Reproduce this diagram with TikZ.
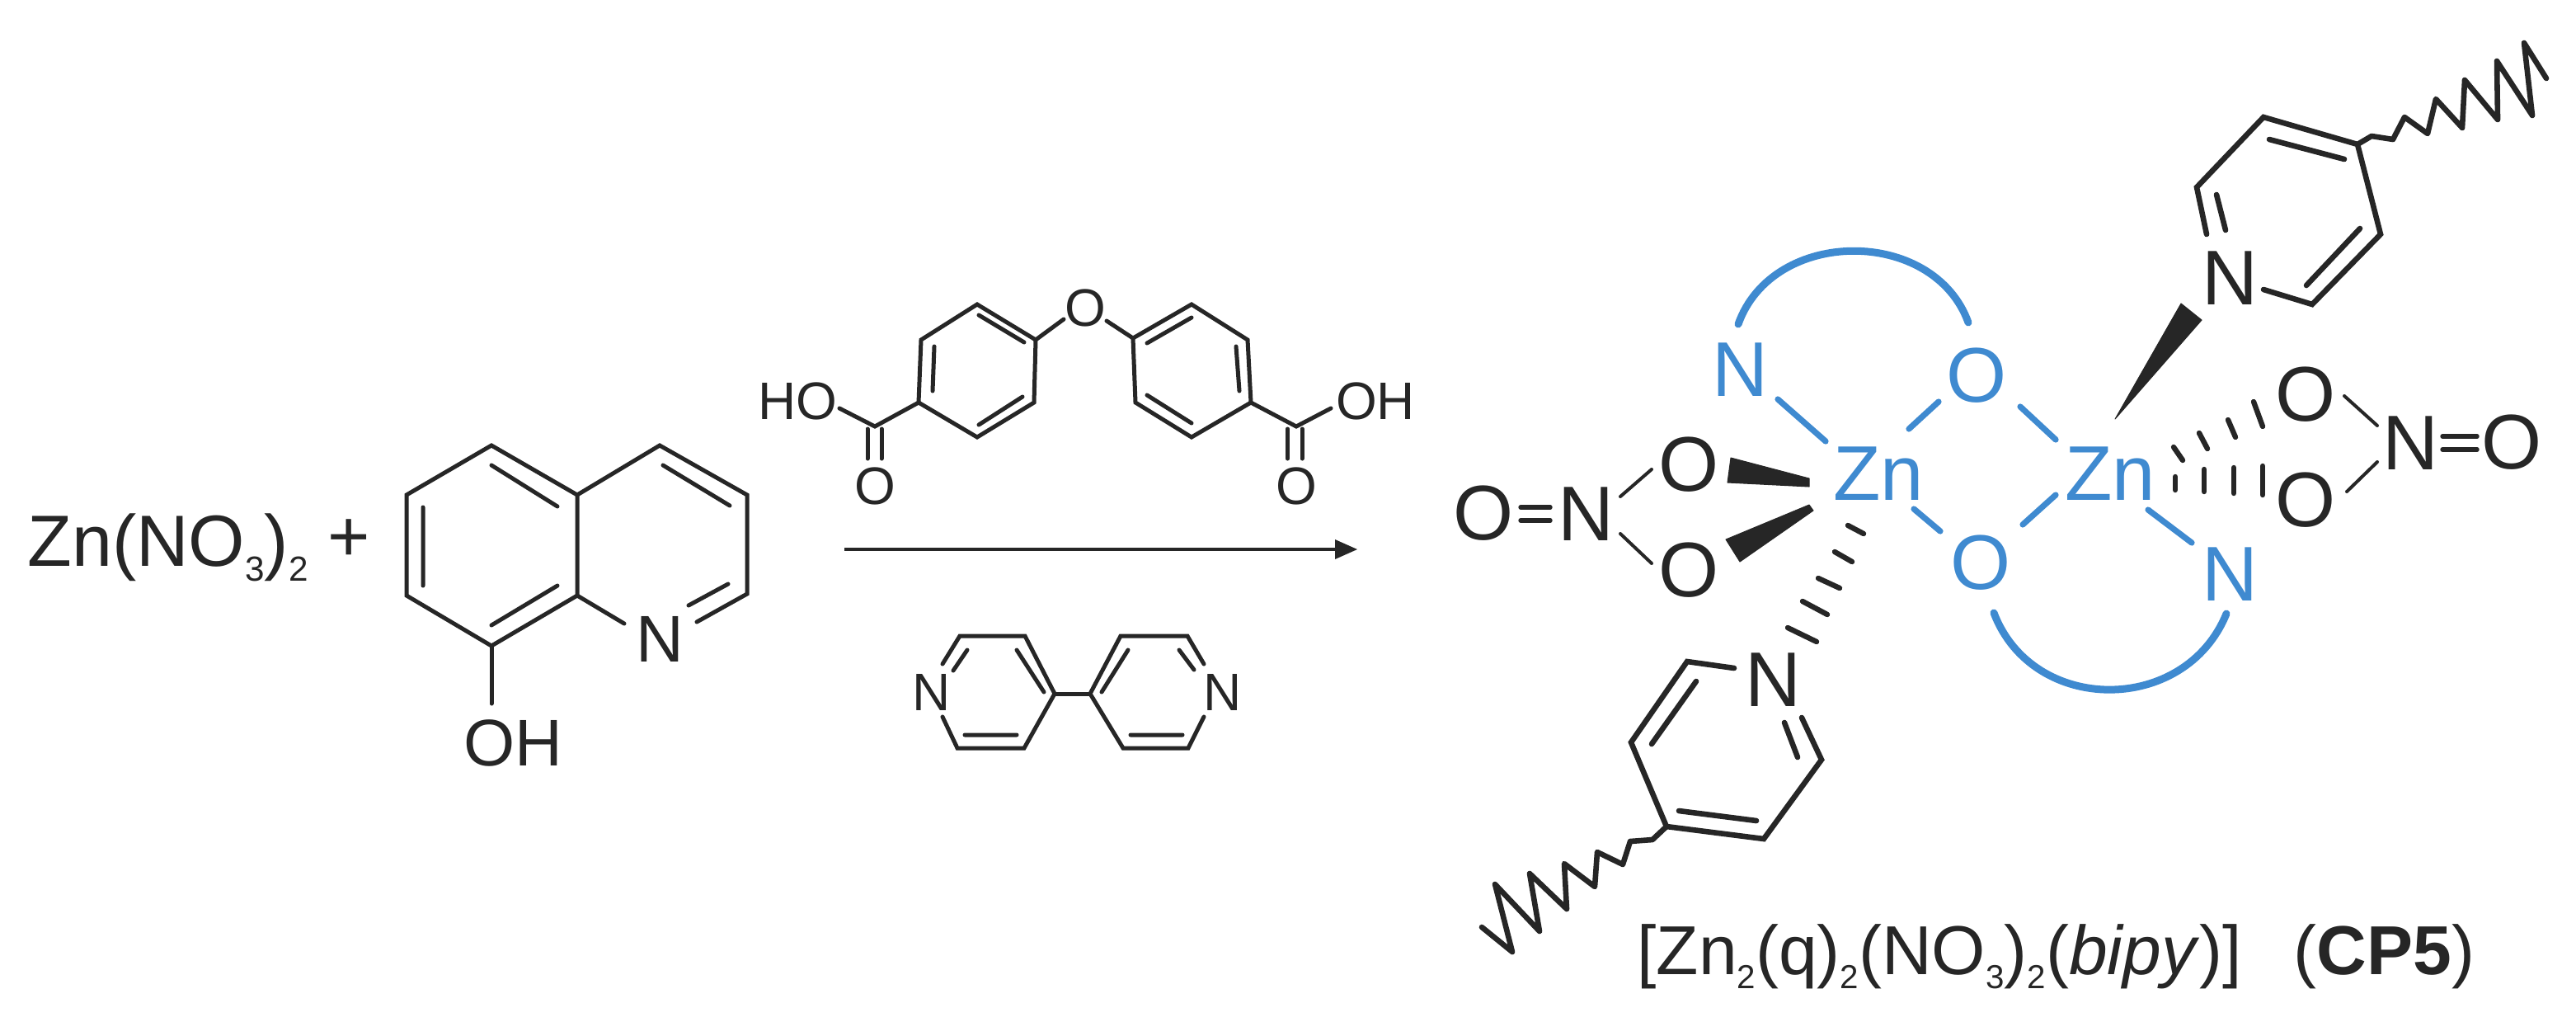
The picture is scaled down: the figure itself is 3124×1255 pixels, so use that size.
\documentclass[tikz,border=0pt]{standalone}
\usepackage{fontspec}
\setmainfont{Liberation Sans}
\definecolor{ink}{HTML}{262626}
\definecolor{znblue}{HTML}{3F8AD0}
\newcommand{\lowsub}[1]{\raisebox{-0.21em}{\scalebox{0.48}{#1}}}
\newcommand{\fs}[1]{\fontsize{#1}{#1}\selectfont}
\tikzset{
  bond/.style={draw=ink,line width=2.5pt,line join=miter,line cap=round},
  bondb/.style={draw=ink,line width=3.3pt,line join=miter,line cap=round},
  thin bond/.style={draw=ink,line width=2pt,line cap=round},
  double eq/.style={draw=ink,line width=2.7pt,line cap=round},
  blue bond/.style={draw=znblue,line width=3.6pt,line cap=round},
  arc line/.style={draw=znblue,line width=4.5pt,line cap=round},
  solid wedge/.style={fill=ink,draw=ink,line width=0.5pt,line join=round},
  hash/.style={draw=ink,line width=3.2pt,line cap=round},
  lbl/.style={text=ink,inner sep=0pt,font=\fs{40}},
  small lbl/.style={text=ink,inner sep=0pt,font=\fs{32}},
  big lbl/.style={text=ink,inner sep=0pt,font=\fs{47}},
  blue lbl/.style={text=znblue,inner sep=0pt,font=\fs{47}},
  rxn arrow/.style={draw=ink,line width=2pt},
  rxn head/.style={fill=ink},
}
\begin{document}
\begin{tikzpicture}[x=0.5pt,y=-0.5pt]
\useasboundingbox[fill=white] (0,0) rectangle (3124,1255);

% left reagents
\node[lbl,font=\fs{44},anchor=base west] (zn) at (33,686) {Zn(NO\lowsub{3})\lowsub{2}};
\node[lbl,font=\fs{44}] (plus) at (423,655) {+};

% quinoline
\draw[bond] (596,540)--(493,600)--(493,722)--(596,783)--(700,722)--(700,600)--cycle;
\draw[bond] (700,600)--(800,540)--(906,600)--(906,720)--(845,754);
\draw[bond] (700,722)--(757,756);
\draw[bond] (883,708)--(835,734);
\draw[bond] (596,564)--(676,614) (513,615)--(513,710) (596,758)--(676,710) (804,564)--(885,613);
\draw[bond] (596,783)--(596,853);
\node[lbl] (qn) at (800,775) {N};
\node[lbl] (qoh) at (622,901) {OH};

% diacid
\draw[bond] (1185,369)--(1256,412)--(1254,488)--(1185,530)--(1114,488)--(1117,412)--cycle;
\draw[bond] (1187,382)--(1242,415) (1133,420)--(1131,474) (1187,515)--(1240,481);
\draw[bond] (1445,369)--(1513,412)--(1517,488)--(1445,530)--(1377,488)--(1374,410)--cycle;
\draw[bond] (1391,416)--(1445,385) (1499,420)--(1503,474) (1391,479)--(1445,513);
\node[small lbl] (oc) at (1316,373) {O};
\draw[bond] (1256,412)--(1290,387) (1342,389)--(1374,410);
\draw[bond] (1114,488)--(1061,517)--(1018,495);
\draw[bond] (1052,520)--(1052,556) (1069,520)--(1069,556);
\node[small lbl] (ol) at (1061,589) {O};
\node[small lbl] (hol) at (967,486) {HO};
\draw[bond] (1517,488)--(1572,517)--(1614,495);
\draw[bond] (1561.5,520)--(1561.5,556) (1579,520)--(1579,556);
\node[small lbl] (or) at (1572,589) {O};
\node[small lbl] (ohr) at (1668,486) {OH};

% arrow
\coordinate (ar1) at (1024,666);
\coordinate (ar2) at (1622,666);
\draw[rxn arrow] (ar1)--(ar2);
\fill[rxn head] (1646,666)--(1619,654)--(1619,678)--cycle;

% bipy
\node[small lbl] (bl) at (1130,839) {N};
\node[small lbl] (br) at (1483,839) {N};
\draw[bond] (1143,805)--(1164,771)--(1243,771)--(1279,841)--(1242,907)--(1161,907)--(1143,869);
\draw[bond] (1173,788)--(1156,813) (1233,788)--(1266,839) (1170,891)--(1233,891);
\draw[bond] (1279,841)--(1322,841);
\draw[bond] (1460,805)--(1440,771)--(1359,771)--(1322,841)--(1362,907)--(1441,907)--(1460,869);
\draw[bond] (1368,788)--(1336,839) (1430,788)--(1448,812) (1371,891)--(1434,891);

% upper pyridine
\draw[bondb] (2676,284)--(2664,227)--(2745,142)--(2859,175)--(2887,284)--(2804,369)--(2745,351);
\draw[bondb] (2688,236)--(2699,279) (2797,346)--(2862,277) (2752,169)--(2843,193);
\node[big lbl] (pt) at (2704,337) {N};
\draw[bondb,line join=round] (2859,175)--(2876,165)--(2902,169)--(2916,142)--(2944,162)--(2954,120)--(2986,155)--(2989,97)--(3029,145)--(3028,74)--(3071,140)--(3061,52)--(3088,95);
\fill[solid wedge] (2565,508)--(2645,368)--(2670,388)--cycle;

% lower pyridine
\draw[bondb] (2103,810)--(2046,802)--(1978,900)--(2021,1002)--(2139,1017)--(2209,921)--(2185,870);
\draw[bondb] (2057,826)--(2003,902) (2036,983)--(2130,995) (2164,876)--(2180,918);
\node[big lbl] (pb) at (2150,824) {N};
\draw[bondb,line join=round] (2021,1002)--(2004,1018)--(1977,1020)--(1968,1048)--(1937,1033)--(1934,1075)--(1897,1047)--(1900,1102)--(1855,1059)--(1867,1129)--(1813,1072)--(1834,1154)--(1797,1124);

% hashed to lower pyridine
\draw[hash] (2241,637)--(2260,647) (2225,669)--(2246,681) (2205,701)--(2231,713) (2186,729)--(2216,745) (2168,761)--(2203,778);

% core, blue
\node[blue lbl] (zna) at (2278,574) {Zn};
\node[blue lbl] (znb) at (2559,574) {Zn};
\node[blue lbl] (na) at (2110,448) {N};
\node[blue lbl] (oa) at (2397,455) {O};
\node[blue lbl] (ob) at (2402,682) {O};
\node[blue lbl] (nb) at (2704,696) {N};
\draw[blue bond] (2156,484)--(2214,535) (2351,487)--(2315,520) (2450,493)--(2493,533);
\draw[blue bond] (2321,617)--(2353,644) (2453,636)--(2493,600) (2605,618)--(2658,658);
\draw[arc line] (2108,393) .. controls (2150,275) and (2345,275) .. (2387,391);
\draw[arc line] (2418,743) .. controls (2465,867) and (2650,867) .. (2700,744);

% left nitrate
\node[big lbl] (nl) at (1923,623) {N};
\node[big lbl] (oll) at (1799,622) {O};
\node[big lbl] (olt) at (2048,563) {O};
\node[big lbl] (olb) at (2048,691) {O};
\draw[thin bond] (1965,602)--(2003,569) (1965,647)--(2003,683);
\draw[double eq] (1844,615)--(1880,615) (1844,631)--(1880,631);
\fill[solid wedge] (2099,555)--(2194,580)--(2194,590)--(2095,585)--cycle;
\fill[solid wedge] (2194,612)--(2199,619)--(2110,681)--(2093,654)--cycle;

% right nitrate
\node[big lbl] (nr) at (2923,537) {N};
\node[big lbl] (ort) at (2796,478) {O};
\node[big lbl] (orb) at (2796,606) {O};
\node[big lbl] (orr) at (3046,536) {O};
\draw[thin bond] (2843,480)--(2883,516) (2883,560)--(2846,596);
\draw[double eq] (2962,529)--(3004,529) (2962,545)--(3004,545);
\draw[hash] (2636,542)--(2647,558) (2667,525)--(2677,544) (2702,509)--(2711,530) (2733,487)--(2744,517);
\draw[hash] (2638,578)--(2638,594) (2673,569)--(2673,596) (2709,567)--(2709,598) (2744,565)--(2744,600);

% caption
\node[lbl,font=\fs{42},anchor=base west] (cap) at (1985,1181) {[Zn\lowsub{2}(q)\lowsub{2}(NO\lowsub{3})\lowsub{2}(\textit{bipy})]\hspace{0.75em}(\textbf{CP5})};
\end{tikzpicture}
\end{document}
